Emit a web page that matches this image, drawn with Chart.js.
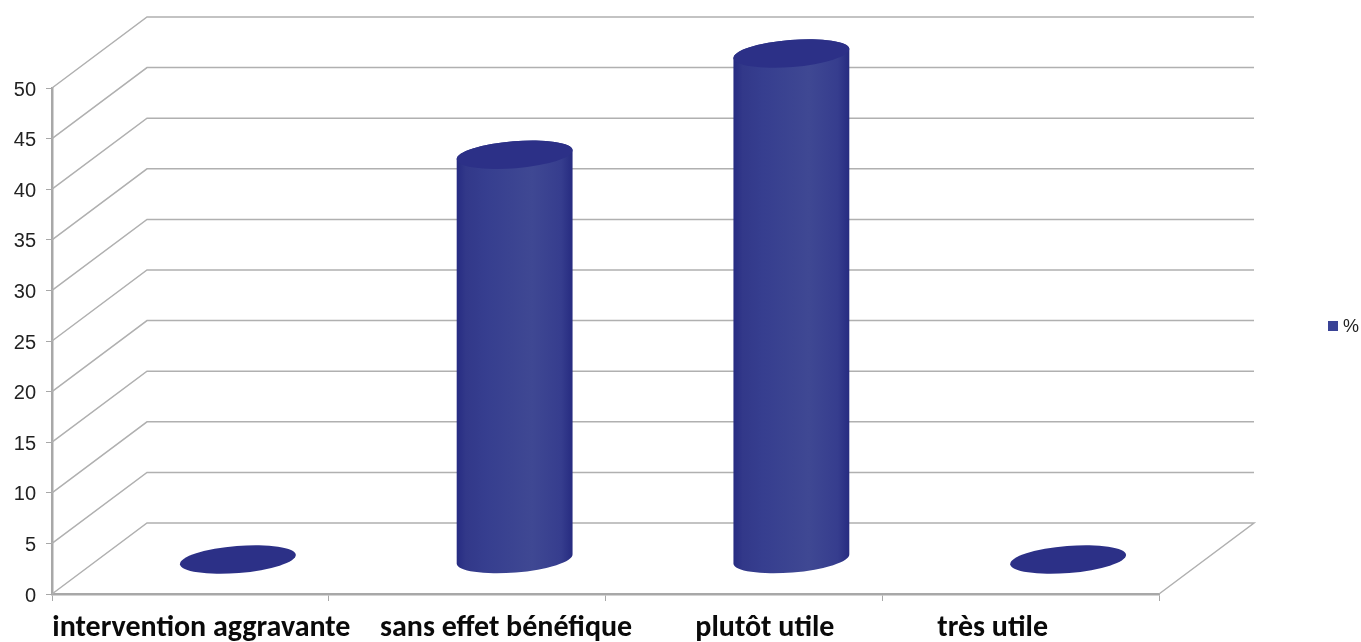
<!DOCTYPE html>
<html lang="fr">
<head>
<meta charset="utf-8">
<title>Utilité de l'intervention</title>
<script src="https://cdn.jsdelivr.net/npm/chart.js@4"></script>
<style>
  html, body { margin: 0; padding: 0; background: #ffffff; }
  canvas { display: block; }
</style>
</head>
<body>
<canvas id="chart" width="1361" height="642"></canvas>
<script>
// Chart content
const categories = ["intervention aggravante", "sans effet bénéfique", "plutôt utile", "très utile"];
const seriesName = "%";
const percentValues = [0, 40, 50, 0];
const valueTicks = [0, 5, 10, 15, 20, 25, 30, 35, 40, 45, 50];

// Pseudo-3D box: how far the back wall sits from the front plane
const DEPTH_X = 95;
const DEPTH_Y = -71;

// Sideways nudge of each category caption from its tick centre
const captionShift = [11, 39, 21, -28];

const GRID_COLOR = "#b0b0b0";
const AXIS_COLOR = "#a8a8a8";
const TOP_COLOR = "#2c3087";
const LEGEND_COLOR = "#3a4396";

// A bar element painted as a tilted cylinder standing half way into the box
class CylinderElement extends Chart.BarElement {
  static id = "cylinder";
  draw(ctx) {
    const { x, y, base, width } = this.getProps(["x", "y", "base", "width"], true);
    const cx = x + DEPTH_X / 2;
    const top = y + DEPTH_Y / 2 + 1;
    const bottom = base + DEPTH_Y / 2 + 1;
    const a = width / 2;
    const b = 13.5;
    const tilt = -0.08;
    ctx.save();
    if (bottom - top > 1) {
      const shade = ctx.createLinearGradient(cx - a, 0, cx + a, 0);
      shade.addColorStop(0, "#262b82");
      shade.addColorStop(0.08, "#323889");
      shade.addColorStop(0.25, "#363e8f");
      shade.addColorStop(0.65, "#3f4893");
      shade.addColorStop(0.9, "#363d8e");
      shade.addColorStop(1, "#262b80");
      ctx.beginPath();
      ctx.ellipse(cx, bottom, a, b, tilt, 0, Math.PI, false);
      ctx.ellipse(cx, top, a, b, tilt, Math.PI, 0, false);
      ctx.closePath();
      ctx.fillStyle = shade;
      ctx.fill();
    }
    ctx.beginPath();
    ctx.ellipse(cx, top, a, b, tilt, 0, Math.PI * 2);
    ctx.fillStyle = this.options.backgroundColor;
    ctx.fill();
    ctx.restore();
  }
}

class CylinderController extends Chart.BarController {
  static id = "cylinder";
  static defaults = { dataElementType: "cylinder" };
}

Chart.register(CylinderElement, CylinderController);

// Back wall, side wall and floor edge of the box
const boxPlugin = {
  id: "box",
  beforeDatasetsDraw(chart) {
    const { ctx, scales: { x, y } } = chart;
    const left = x.left, right = x.right;
    ctx.save();
    ctx.strokeStyle = GRID_COLOR;
    ctx.lineWidth = 1.5;
    for (const v of valueTicks) {
      const py = y.getPixelForValue(v);
      ctx.beginPath();
      ctx.moveTo(left, py);
      ctx.lineTo(left + DEPTH_X, py + DEPTH_Y);
      ctx.lineTo(right + DEPTH_X, py + DEPTH_Y);
      if (v === 0) ctx.lineTo(right, py);
      ctx.stroke();
    }
    ctx.restore();
  }
};

// Category captions and the legend entry
const annotationPlugin = {
  id: "annotations",
  afterDraw(chart) {
    const { ctx, scales: { x } } = chart;
    ctx.save();
    ctx.fillStyle = "#0a0a0a";
    ctx.font = 'bold 30px Carlito, Lato, sans-serif';
    ctx.textAlign = "center";
    ctx.textBaseline = "alphabetic";
    chart.data.labels.forEach((label, i) => {
      ctx.fillText(label, x.getPixelForTick(i) + captionShift[i], 636);
    });
    ctx.fillStyle = LEGEND_COLOR;
    ctx.fillRect(1328, 321, 10, 10);
    ctx.fillStyle = "#222222";
    ctx.font = '18px "Liberation Sans", Arial, sans-serif';
    ctx.textAlign = "left";
    ctx.textBaseline = "middle";
    ctx.fillText(chart.data.datasets[0].label, 1343, 327);
    ctx.restore();
  }
};

new Chart(document.getElementById("chart"), {
  type: "cylinder",
  data: {
    labels: categories,
    datasets: [{
      label: seriesName,
      data: percentValues,
      backgroundColor: TOP_COLOR,
      barPercentage: 0.84,
      categoryPercentage: 0.5,
      clip: false
    }]
  },
  plugins: [boxPlugin, annotationPlugin],
  options: {
    responsive: false,
    animation: false,
    events: [],
    layout: { padding: { top: 88, right: 202, bottom: 0, left: 0 } },
    plugins: { legend: { display: false }, tooltip: { enabled: false } },
    scales: {
      x: {
        type: "category",
        offset: true,
        afterFit(scale) { scale.height = 48; },
        border: { color: AXIS_COLOR, width: 2.5 },
        grid: { drawOnChartArea: false, drawTicks: true, tickLength: 7, color: AXIS_COLOR, offset: true },
        ticks: { display: false }
      },
      y: {
        type: "linear",
        min: 0,
        max: 50,
        afterFit(scale) { scale.width = 52; },
        border: { color: AXIS_COLOR, width: 2.5 },
        grid: { drawOnChartArea: false, drawTicks: true, tickLength: 6, color: AXIS_COLOR },
        ticks: {
          stepSize: 5,
          padding: 10,
          labelOffset: 2,
          color: "#222222",
          font: { family: '"Liberation Sans", Arial, sans-serif', size: 20 }
        }
      }
    }
  }
});
</script>
</body>
</html>
